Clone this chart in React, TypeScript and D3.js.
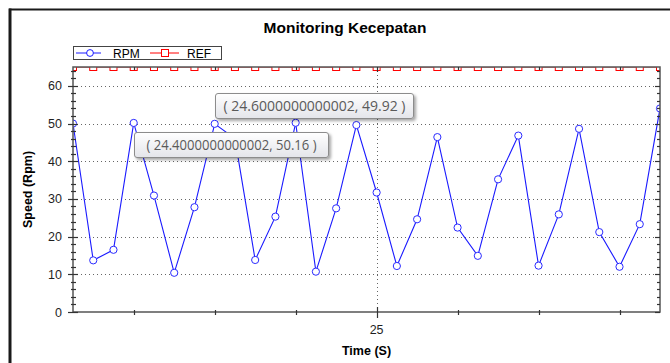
import * as d3 from 'd3';
import { useEffect, useRef } from 'react';

// sample times (s) and measured speed
const timeSeconds = [
  24.25, 24.3, 24.35, 24.4, 24.45, 24.5, 24.55, 24.6, 24.65, 24.7,
  24.75, 24.8, 24.85, 24.9, 24.95, 25.0, 25.05, 25.1, 25.15, 25.2,
  25.25, 25.3, 25.35, 25.4, 25.45, 25.5, 25.55, 25.6, 25.65, 25.7,
];
const rpmValues = [
  50.0, 13.7, 16.5, 50.16, 30.9, 10.4, 27.8, 49.92, 46.0, 13.8,
  25.3, 50.2, 10.7, 27.5, 49.6, 31.7, 12.2, 24.6, 46.4, 22.4,
  14.9, 35.2, 46.8, 12.3, 25.9, 48.6, 21.2, 12.0, 23.3, 54.0,
];
const refValues = [
  65, 65, 65, 65, 65, 65, 65, 65, 65, 65,
  65, 65, 65, 65, 65, 65, 65, 65, 65, 65,
  65, 65, 65, 65, 65, 65, 65, 65, 65, 65,
];
const yMajorTicks = [0, 10, 20, 30, 40, 50, 60];
const yMinorTicks = [2, 4, 6, 8, 12, 14, 16, 18, 22, 24, 26, 28, 32, 34, 36, 38, 42, 44, 46, 48, 52, 54, 56, 58, 62, 64];
const xMajorTicks = [25];
const xMinorTicks = [24.4, 24.6, 24.8, 25.2, 25.4, 25.6];
const tooltipPoints = [
  { t: 24.6, v: 49.92, label: '( 24.6000000000002, 49.92 )' },
  { t: 24.4, v: 50.16, label: '( 24.4000000000002, 50.16 )' },
];

const WIDTH = 670;
const HEIGHT = 363;
const FONT = '"Liberation Sans", Arial, sans-serif';

export default function App() {
  const ref = useRef<SVGSVGElement>(null);

  useEffect(() => {
    const svg = d3.select(ref.current);
    svg.selectAll('*').remove();

    const plot = { left: 73, top: 67, right: 660, bottom: 312 };
    const x = d3.scaleLinear().domain([24.25, 25.7]).range([plot.left, plot.right]);
    const y = d3.scaleLinear().domain([0, 65]).range([plot.bottom, plot.top]);

    svg.append('rect').attr('width', WIDTH).attr('height', HEIGHT).attr('fill', '#ffffff');

    // outer frame edges
    svg.append('line').attr('x1', 9).attr('x2', WIDTH).attr('y1', 9.5).attr('y2', 9.5)
      .attr('stroke', '#1a1a1a').attr('stroke-width', 2);
    svg.append('line').attr('x1', 10).attr('x2', 10).attr('y1', 8.5).attr('y2', HEIGHT)
      .attr('stroke', '#1a1a1a').attr('stroke-width', 3);

    svg.append('text')
      .attr('x', 345).attr('y', 33)
      .attr('text-anchor', 'middle')
      .style('font-family', FONT).style('font-size', '15.5px').style('font-weight', 'bold')
      .style('fill', '#000')
      .text('Monitoring Kecepatan');

    const defs = svg.append('defs');
    defs.append('clipPath').attr('id', 'plot-clip')
      .append('rect')
      .attr('x', plot.left).attr('y', plot.top)
      .attr('width', plot.right - plot.left).attr('height', plot.bottom - plot.top);
    const grad = defs.append('linearGradient').attr('id', 'tip-bg')
      .attr('x1', 0).attr('x2', 0).attr('y1', 0).attr('y2', 1);
    grad.append('stop').attr('offset', '0%').attr('stop-color', '#ffffff');
    grad.append('stop').attr('offset', '100%').attr('stop-color', '#e4e5ea');
    const shadow = defs.append('filter').attr('id', 'tip-shadow')
      .attr('x', '-10%').attr('y', '-20%').attr('width', '130%').attr('height', '160%');
    shadow.append('feDropShadow').attr('dx', 2).attr('dy', 2).attr('stdDeviation', 1.5)
      .attr('flood-color', '#000').attr('flood-opacity', 0.35);

    // grid
    const grid = svg.append('g').attr('stroke', '#666').attr('stroke-dasharray', '1,3');
    yMajorTicks.filter((v) => v > 0).forEach((v) => {
      grid.append('line')
        .attr('x1', plot.left).attr('x2', plot.right - 4)
        .attr('y1', Math.round(y(v)) + 0.5).attr('y2', Math.round(y(v)) + 0.5);
    });
    xMajorTicks.forEach((t) => {
      grid.append('line')
        .attr('x1', Math.round(x(t)) + 0.5).attr('x2', Math.round(x(t)) + 0.5)
        .attr('y1', plot.top + 4).attr('y2', plot.bottom);
    });

    // series
    const series = svg.append('g').attr('clip-path', 'url(#plot-clip)');
    const rpmLine = d3.line<number>().x((_, i) => x(timeSeconds[i])).y((d) => y(d));
    series.append('path').datum(refValues).attr('d', rpmLine)
      .attr('fill', 'none').attr('stroke', '#ff0000').attr('stroke-width', 1);
    series.selectAll('rect.ref').data(refValues).enter().append('rect')
      .attr('class', 'ref')
      .attr('x', (_, i) => x(timeSeconds[i]) - 3.5)
      .attr('y', (d) => y(d) - 3.5)
      .attr('width', 7).attr('height', 7)
      .attr('fill', '#fff').attr('stroke', '#ff0000').attr('stroke-width', 1);
    series.append('path').datum(rpmValues).attr('d', rpmLine)
      .attr('fill', 'none').attr('stroke', '#1a1aff').attr('stroke-width', 1.1);
    series.selectAll('circle.rpm').data(rpmValues).enter().append('circle')
      .attr('class', 'rpm')
      .attr('cx', (_, i) => x(timeSeconds[i]))
      .attr('cy', (d) => y(d))
      .attr('r', 3.6)
      .attr('fill', '#fff').attr('stroke', '#2a2aff').attr('stroke-width', 1);

    // frame + axes
    svg.append('rect')
      .attr('x', plot.left).attr('y', plot.top)
      .attr('width', plot.right - plot.left).attr('height', plot.bottom - plot.top)
      .attr('fill', 'none').attr('stroke', '#555').attr('stroke-width', 1.5);

    const ticks = svg.append('g').attr('stroke', '#333').attr('stroke-width', 1.2);
    yMajorTicks.forEach((v) => {
      const yy = Math.round(y(v)) + 0.5;
      ticks.append('line').attr('x1', plot.left - 5).attr('x2', plot.left + 5).attr('y1', yy).attr('y2', yy);
      ticks.append('line').attr('x1', plot.right - 5).attr('x2', plot.right).attr('y1', yy).attr('y2', yy);
    });
    yMinorTicks.forEach((v) => {
      const yy = Math.round(y(v)) + 0.5;
      ticks.append('line').attr('x1', plot.left - 2).attr('x2', plot.left + 3).attr('y1', yy).attr('y2', yy);
      ticks.append('line').attr('x1', plot.right - 3).attr('x2', plot.right).attr('y1', yy).attr('y2', yy);
    });
    xMajorTicks.forEach((t) => {
      const xx = Math.round(x(t)) + 0.5;
      ticks.append('line').attr('x1', xx).attr('x2', xx).attr('y1', plot.bottom - 5).attr('y2', plot.bottom + 6);
      ticks.append('line').attr('x1', xx).attr('x2', xx).attr('y1', plot.top).attr('y2', plot.top + 5);
    });
    xMinorTicks.forEach((t) => {
      const xx = Math.round(x(t)) + 0.5;
      ticks.append('line').attr('x1', xx).attr('x2', xx).attr('y1', plot.bottom - 2).attr('y2', plot.bottom + 3);
      ticks.append('line').attr('x1', xx).attr('x2', xx).attr('y1', plot.top).attr('y2', plot.top + 3);
    });

    svg.selectAll('text.ylab').data(yMajorTicks).enter().append('text')
      .attr('class', 'ylab')
      .attr('x', plot.left - 11).attr('y', (d) => y(d) + 4.5)
      .attr('text-anchor', 'end')
      .style('font-family', FONT).style('font-size', '12.5px').style('fill', '#1f1f1f')
      .text((d) => d);
    svg.selectAll('text.xlab').data(xMajorTicks).enter().append('text')
      .attr('class', 'xlab')
      .attr('x', (d) => x(d)).attr('y', plot.bottom + 22)
      .attr('text-anchor', 'middle')
      .style('font-family', FONT).style('font-size', '12.5px').style('fill', '#1f1f1f')
      .text((d) => d);

    svg.append('text')
      .attr('x', (plot.left + plot.right) / 2).attr('y', 355)
      .attr('text-anchor', 'middle')
      .style('font-family', FONT).style('font-size', '12.5px').style('font-weight', 'bold')
      .text('Time (S)');
    svg.append('text')
      .attr('transform', `translate(32,${(plot.top + plot.bottom) / 2}) rotate(-90)`)
      .attr('text-anchor', 'middle')
      .style('font-family', FONT).style('font-size', '12.5px').style('font-weight', 'bold')
      .text('Speed (Rpm)');

    // legend
    const legend = svg.append('g');
    legend.append('rect').attr('x', 73.5).attr('y', 46.5).attr('width', 148).attr('height', 13)
      .attr('fill', '#fff').attr('stroke', '#444').attr('stroke-width', 1);
    legend.append('line').attr('x1', 76).attr('x2', 101).attr('y1', 53).attr('y2', 53).attr('stroke', '#1a1aff');
    legend.append('circle').attr('cx', 90).attr('cy', 53).attr('r', 3.4)
      .attr('fill', '#fff').attr('stroke', '#1a1aff');
    legend.append('text').attr('x', 113).attr('y', 57.5)
      .style('font-family', FONT).style('font-size', '12px').text('RPM');
    legend.append('line').attr('x1', 150).attr('x2', 179).attr('y1', 53).attr('y2', 53).attr('stroke', '#ff0000');
    legend.append('rect').attr('x', 161.5).attr('y', 49.5).attr('width', 7).attr('height', 7)
      .attr('fill', '#fff').attr('stroke', '#ff0000');
    legend.append('text').attr('x', 187).attr('y', 57.5)
      .style('font-family', FONT).style('font-size', '12px').text('REF');

    // hover tooltips
    const tipBoxes = [
      { dy: -31, w: 198, tw: 182 },
      { dy: 9, w: 194, tw: 170 },
    ];
    tooltipPoints.forEach((p, i) => {
      const bx = Math.round(x(p.t)) + 0.5;
      const by = Math.round(y(p.v) + tipBoxes[i].dy) + 0.5;
      const g = svg.append('g');
      g.append('rect').attr('x', bx).attr('y', by).attr('width', tipBoxes[i].w).attr('height', 25)
        .attr('rx', 2.5).attr('fill', 'url(#tip-bg)').attr('stroke', '#8c8c8c')
        .attr('filter', 'url(#tip-shadow)');
      g.append('text')
        .attr('x', bx + (tipBoxes[i].w - tipBoxes[i].tw) / 2).attr('y', by + 17.5)
        .attr('textLength', tipBoxes[i].tw).attr('lengthAdjust', 'spacingAndGlyphs')
        .style('font-family', '"Open Sans", "DejaVu Sans", sans-serif').style('font-size', '14px')
        .style('fill', '#5a5a5a')
        .text(p.label);
    });
  }, []);

  return (
    <svg
      ref={ref}
      width={WIDTH}
      height={HEIGHT}
      style={{ position: 'absolute', left: 0, top: 0, display: 'block' }}
    />
  );
}
